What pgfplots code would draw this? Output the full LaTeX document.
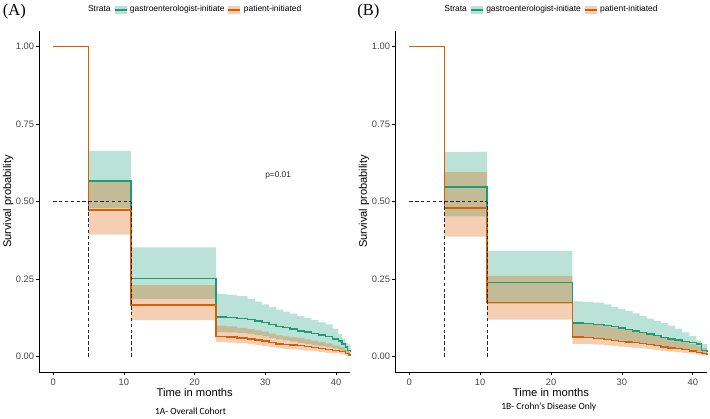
\documentclass[border=0pt]{standalone}
\usepackage{pgfplots}
\pgfplotsset{compat=1.18}
\usepackage{pgfplotstable}
\usepgfplotslibrary{fillbetween}
\usepackage{fontspec}
\setmainfont{Liberation Sans}
\newfontfamily\seriffont{Liberation Serif}
\newfontfamily\calib{Carlito}
\definecolor{gcol}{HTML}{1B9E77}
\definecolor{ocol}{HTML}{D95F02}

% Panel A: gastroenterologist-initiated
\pgfplotstableread{
t s u l
0 1 1 1
5 0.566 0.663 0.479
11 0.252 0.352 0.185
23 0.128 0.201 0.079
24.5 0.126 0.199 0.078
26 0.123 0.195 0.076
27.5 0.120 0.186 0.073
28.5 0.115 0.177 0.069
29.5 0.110 0.168 0.065
30.5 0.104 0.160 0.060
31.5 0.097 0.151 0.055
32.5 0.093 0.145 0.052
33.5 0.088 0.138 0.048
34.5 0.083 0.130 0.044
35.5 0.079 0.124 0.041
36.5 0.074 0.117 0.037
37.5 0.069 0.110 0.034
38.5 0.064 0.104 0.030
39.5 0.057 0.090 0.026
40.3 0.050 0.072 0.020
40.8 0.041 0.058 0.015
41.3 0.030 0.045 0.010
41.6 0.019 0.038 0.006
42 0.016 0.032 0.004
}\gA
% Panel A: patient-initiated
\pgfplotstableread{
t s u l
0 1 1 1
5 0.472 0.566 0.393
11 0.166 0.230 0.117
23 0.065 0.100 0.047
24.5 0.063 0.097 0.045
26 0.059 0.092 0.042
27.5 0.056 0.088 0.039
28.5 0.053 0.084 0.037
29.5 0.050 0.080 0.034
30.5 0.045 0.074 0.030
31.5 0.041 0.068 0.027
32.5 0.039 0.065 0.025
33.5 0.037 0.062 0.023
34.5 0.035 0.059 0.021
35.5 0.032 0.055 0.019
36.5 0.029 0.051 0.017
37.5 0.026 0.047 0.015
38.5 0.023 0.042 0.012
39.5 0.019 0.036 0.010
40.5 0.016 0.030 0.007
41.3 0.010 0.022 0.003
41.8 0.005 0.015 0.001
42 0.004 0.012 0.000
}\oA
% Panel B: gastroenterologist-initiated
\pgfplotstableread{
t s u l
0 1 1 1
5 0.547 0.660 0.452
11 0.239 0.341 0.170
23 0.108 0.178 0.063
24.5 0.106 0.176 0.062
26 0.104 0.174 0.060
27.5 0.100 0.168 0.057
28.5 0.096 0.160 0.054
29.5 0.092 0.153 0.051
30.5 0.087 0.146 0.048
31.5 0.082 0.139 0.045
32.5 0.077 0.130 0.042
33.5 0.072 0.122 0.038
34.5 0.067 0.115 0.035
35.5 0.062 0.108 0.032
36.5 0.057 0.100 0.029
37.5 0.053 0.090 0.026
38.5 0.049 0.078 0.023
39.5 0.045 0.066 0.020
40.5 0.040 0.052 0.016
41.2 0.020 0.041 0.007
42 0.015 0.035 0.004
}\gB
% Panel B: patient-initiated
\pgfplotstableread{
t s u l
0 1 1 1
5 0.479 0.595 0.387
11 0.175 0.260 0.119
23 0.063 0.108 0.041
24.5 0.061 0.105 0.040
26 0.058 0.101 0.038
27.5 0.055 0.097 0.036
28.5 0.052 0.093 0.034
29.5 0.049 0.089 0.032
30.5 0.047 0.085 0.030
31.5 0.045 0.081 0.028
32.5 0.042 0.076 0.026
33.5 0.039 0.071 0.024
34.5 0.035 0.066 0.021
35.5 0.031 0.061 0.018
36.5 0.028 0.056 0.016
37.5 0.025 0.051 0.014
38.5 0.022 0.046 0.012
39.5 0.017 0.040 0.009
40.5 0.013 0.034 0.006
41.3 0.009 0.027 0.003
42 0.006 0.020 0.001
}\oB

\pgfplotsset{
  kmaxis/.style={
    scale only axis,
    clip=false,
    width=233.5pt, height=255.75pt,
    xmin=-2, xmax=42, ymin=-0.05, ymax=1.05,
    axis lines*=left,
    axis line style={black, line width=0.7pt},
    xtick={0,10,20,30,40},
    xticklabels={0,10,20,30,40},
    ytick={0,0.25,0.5,0.75,1},
    yticklabels={0.00,0.25,0.50,0.75,1.00},
    tick align=outside,
    major tick length=2.4pt,
    tick style={black, line width=0.6pt},
    /pgf/number format/assume math mode=true,
    ticklabel style={font=\fontsize{7}{8}\selectfont, text=black!72},
    xticklabel style={yshift=0.8pt},
    yticklabel style={xshift=2.2pt},
    xlabel={Time in months},
    ylabel={Survival probability},
    every axis x label/.style={at={(axis description cs:0.5,-0.060)}, anchor=center,
      font=\fontsize{8.4}{10}\selectfont},
    every axis y label/.style={at={(axis description cs:-0.099,0.5)}, anchor=center, rotate=90,
      font=\fontsize{8.3}{10}\selectfont},
    legend columns=3,
    legend cell align=left,
    legend style={draw=none, fill=none, font=\fontsize{6.35}{7.5}\selectfont,
      at={(axis description cs:0.5,1.062)}, anchor=center,
      /tikz/every even column/.append style={column sep=0.4pt}},
  },
  band/.style={draw=none, fill=#1, fill opacity=0.3},
  km/.style={const plot, #1, line width=1.1pt},
  med/.style={black!85, dash pattern=on 2.6pt off 1.8pt, line width=0.6pt},
  gkey/.style={legend image code/.code={\fill[gcol, fill opacity=0.3, draw=none] (0pt,-3.2pt) rectangle (9pt,3.2pt); \draw[gcol, line width=1.1pt] (0pt,0pt) -- (9pt,0pt);}},
  okey/.style={legend image code/.code={\fill[ocol, fill opacity=0.3, draw=none] (0pt,-3.2pt) rectangle (9pt,3.2pt); \draw[ocol, line width=1.1pt] (0pt,0pt) -- (9pt,0pt);}},
}

\begin{document}
\begin{tikzpicture}

% ---------------- Panel A ----------------
\begin{axis}[kmaxis, at={(0pt,0pt)}, anchor=south west]
\addlegendimage{empty legend}
\addlegendentry{Strata\hspace{3.5pt}}
\addlegendimage{gkey}
\addlegendentry{gastroenterologist-initiate\hspace{2pt}}
\addlegendimage{okey}
\addlegendentry{patient-initiated}

\addplot[const plot, draw=none, name path=gAu, forget plot] table[x=t,y=u]{\gA};
\addplot[const plot, draw=none, name path=gAl, forget plot] table[x=t,y=l]{\gA};
\addplot[band=gcol, forget plot] fill between[of=gAu and gAl];
\addplot[const plot, draw=none, name path=oAu, forget plot] table[x=t,y=u]{\oA};
\addplot[const plot, draw=none, name path=oAl, forget plot] table[x=t,y=l]{\oA};
\addplot[band=ocol, forget plot] fill between[of=oAu and oAl];
\addplot[km=gcol, forget plot] table[x=t,y=s]{\gA};
\addplot[km=ocol, forget plot] table[x=t,y=s]{\oA};
\addplot[med, forget plot] coordinates {(0,0.5) (11,0.5)};
\addplot[med, forget plot] coordinates {(5,0) (5,0.5)};
\addplot[med, forget plot] coordinates {(11,0) (11,0.5)};
\node[font=\fontsize{6.25}{7}\selectfont, text=black!85] at (axis cs:31.8,0.585) {p=0.01};
\node[font=\seriffont\fontsize{12.4}{14}\selectfont] at (axis description cs:-0.079,1.056) {(A)};
\node[font=\calib\fontsize{7.1}{8}\selectfont] at (axis description cs:0.487,-0.114) {1A- Overall Cohort};
\end{axis}

% ---------------- Panel B ----------------
\begin{axis}[kmaxis, at={(267pt,0pt)}, anchor=south west, width=234pt]
\addlegendimage{empty legend}
\addlegendentry{Strata\hspace{3.5pt}}
\addlegendimage{gkey}
\addlegendentry{gastroenterologist-initiate\hspace{2pt}}
\addlegendimage{okey}
\addlegendentry{patient-initiated}

\addplot[const plot, draw=none, name path=gBu, forget plot] table[x=t,y=u]{\gB};
\addplot[const plot, draw=none, name path=gBl, forget plot] table[x=t,y=l]{\gB};
\addplot[band=gcol, forget plot] fill between[of=gBu and gBl];
\addplot[const plot, draw=none, name path=oBu, forget plot] table[x=t,y=u]{\oB};
\addplot[const plot, draw=none, name path=oBl, forget plot] table[x=t,y=l]{\oB};
\addplot[band=ocol, forget plot] fill between[of=oBu and oBl];
\addplot[km=gcol, forget plot] table[x=t,y=s]{\gB};
\addplot[km=ocol, forget plot] table[x=t,y=s]{\oB};
\addplot[med, forget plot] coordinates {(0,0.5) (11,0.5)};
\addplot[med, forget plot] coordinates {(5,0) (5,0.5)};
\addplot[med, forget plot] coordinates {(11,0) (11,0.5)};
\node[font=\seriffont\fontsize{12.4}{14}\selectfont] at (axis description cs:-0.085,1.056) {(B)};
\node[font=\calib\fontsize{7.1}{8}\selectfont] at (axis description cs:0.493,-0.103) {1B- Crohn’s Disease Only};
\end{axis}
\pgfresetboundingbox
\useasboundingbox (-29.25pt,-34.5pt) rectangle (503.25pt,279pt);
\end{tikzpicture}
\end{document}
